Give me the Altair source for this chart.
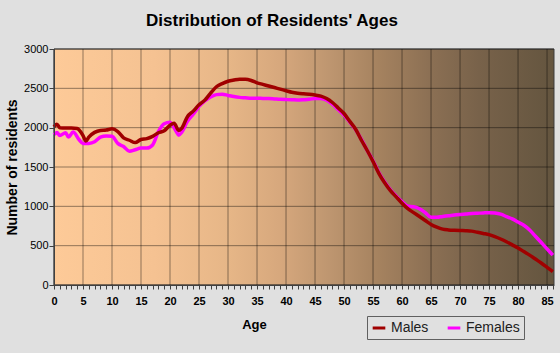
import altair as alt
import pandas as pd

FONT = "Liberation Sans"

# ---- data ----
ages_m = [0, 0.5, 1, 2, 3, 4, 5, 5.5, 6, 7, 8, 9, 10, 11, 12, 13, 14, 15, 16, 17, 18, 19, 20, 20.7, 21.5, 22,
          23, 24, 25, 26, 27, 28, 29, 30, 31, 32, 33, 34, 35, 36, 37, 38, 39, 40, 41, 42, 43, 44, 45,
          46, 47, 48, 49, 50, 51, 52, 53, 54, 55, 56, 57, 58, 59, 60, 61, 62, 63, 64, 65, 66, 67, 68,
          69, 70, 71, 72, 73, 74, 75, 76, 77, 78, 79, 80, 81, 82, 83, 84, 85, 86]
males = [2010, 2045, 2000, 1995, 1995, 1990, 1900, 1830, 1880, 1940, 1965, 1970, 1985, 1950, 1870, 1840, 1810,
         1850, 1860, 1890, 1935, 1960, 2030, 2055, 1965, 1990,
         2140, 2210, 2290, 2350, 2440, 2520, 2560, 2590, 2605, 2615, 2615, 2600, 2570, 2550, 2530, 2510,
         2490, 2470, 2450, 2437, 2430, 2425, 2415,
         2400, 2370, 2320, 2250, 2180, 2080, 1980, 1840, 1710, 1570, 1420, 1300, 1200, 1120, 1040, 970,
         920, 870, 820, 770, 735, 710, 700,
         695, 692, 690, 685, 670, 655, 640, 615, 585, 550, 510, 470, 425, 380, 330, 280, 225, 170]

ages_f = [0, 0.5, 1, 2, 2.5, 3.3, 4.3, 5, 6, 7, 8, 9, 10, 11, 12, 13, 14, 15, 16, 17, 18, 19, 20, 21,
          21.5, 22, 23, 24, 25, 26, 27, 28, 29, 30, 31, 32, 33, 34, 35, 36, 37, 38, 39, 40, 41, 42, 43,
          44, 45, 46, 47, 48, 49, 50, 51, 52, 53, 54, 55, 56, 57, 58, 59, 60, 61, 62, 63, 64, 65, 66,
          67, 68, 69, 70, 71, 72, 73, 74, 75, 76, 77, 78, 79, 80, 81, 82, 83, 84, 85, 86]
females = [1910, 1940, 1900, 1935, 1880, 1945, 1850, 1800, 1800, 1820, 1880, 1895, 1890, 1800, 1760,
           1700, 1720, 1740, 1740, 1780, 1950, 2050, 2070, 1960,
           1905, 1940, 2080, 2170, 2270, 2340, 2390, 2420, 2425, 2410, 2395, 2385, 2380, 2375, 2375,
           2372, 2370, 2365, 2360, 2357, 2355, 2352, 2355,
           2360, 2372, 2370, 2350, 2300, 2230, 2160, 2070, 1975, 1850, 1710, 1580, 1430, 1310, 1210,
           1130, 1060, 1000, 995, 970, 920, 860, 860,
           872, 880, 890, 897, 902, 908, 912, 916, 919, 915, 900, 870, 840, 800, 760, 700, 620, 540,
           460, 380]

series_names = ["Males", "Females"]
series_colors = ["#a00000", "#ff00ff"]

y_ticks = [0, 500, 1000, 1500, 2000, 2500, 3000]
x_ticks = [0, 5, 10, 15, 20, 25, 30, 35, 40, 45, 50, 55, 60, 65, 70, 75, 80, 85]
x_minor_ticks = list(range(0, 87))

df_m = pd.DataFrame({"age": ages_m, "value": males, "sex": "Males"})
df_f = pd.DataFrame({"age": ages_f, "value": females, "sex": "Females"})
df_yg = pd.DataFrame({"value": y_ticks})
df_xg = pd.DataFrame({"age": x_ticks})
one = pd.DataFrame({"k": [0]})

W, H = 500, 236

xscale = alt.Scale(domain=[0, 86.2], nice=False, zero=False)
yscale = alt.Scale(domain=[0, 3000], nice=False)

xaxis = alt.Axis(values=x_minor_ticks,
                 labelExpr="datum.value % 5 === 0 ? datum.label : ''",
                 grid=False, tickSize=4, tickColor="#404040", domainColor="#404040",
                 labelFont=FONT, labelFontSize=11, labelFontWeight="bold", labelColor="black",
                 labelPadding=6, labelOverlap=False, labelFlush=False,
                 title="Age", titleFont=FONT, titleFontSize=13, titleFontWeight="bold",
                 titleColor="black", titleX=200, titleY=39, titleAlign="center",
                 titleBaseline="middle", zindex=1)
yaxis = alt.Axis(values=y_ticks, format="d", grid=False, tickSize=5, tickColor="#404040",
                 domainColor="#404040", labelFont=FONT, labelFontSize=11, labelColor="black",
                 labelPadding=1,
                 title="Number of residents", titleFont=FONT, titleFontSize=14,
                 titleFontWeight="bold", titleColor="black", titleX=-42, titleY=118,
                 titleAngle=270, titleAlign="center", titleBaseline="middle", zindex=1)

X = alt.X("age:Q", scale=xscale, axis=xaxis)
Y = alt.Y("value:Q", scale=yscale, axis=yaxis)

gradient = alt.LinearGradient(
    gradient="linear", x1=0, x2=1, y1=0, y2=0,
    stops=[alt.GradientStop(color="#fdca98", offset=0),
           alt.GradientStop(color="#f5c292", offset=0.2),
           alt.GradientStop(color="#e6b687", offset=0.35),
           alt.GradientStop(color="#d7a87d", offset=0.45),
           alt.GradientStop(color="#be9670", offset=0.55),
           alt.GradientStop(color="#a5825f", offset=0.65),
           alt.GradientStop(color="#8c7054", offset=0.75),
           alt.GradientStop(color="#78624a", offset=0.85),
           alt.GradientStop(color="#64553f", offset=1)])

bg = alt.Chart(one).mark_rect(fill=gradient, stroke="#3c3c3c", strokeWidth=1).encode(
    x=alt.value(0), x2=alt.value(W), y=alt.value(0), y2=alt.value(H))

ygrid = alt.Chart(df_yg).mark_rule(color="black", opacity=0.42, strokeWidth=1).encode(y=Y)
xgrid = alt.Chart(df_xg).mark_rule(color="black", opacity=0.42, strokeWidth=1).encode(x=X)

color = alt.Color("sex:N", scale=alt.Scale(domain=series_names, range=series_colors),
                  legend=alt.Legend(title=None))

line_f = alt.Chart(df_f).mark_line(strokeWidth=3.5, interpolate="monotone").encode(
    x=X, y=Y, color=color)
line_m = alt.Chart(df_m).mark_line(strokeWidth=3.5, interpolate="monotone").encode(
    x=X, y=Y, color=color)

chart = alt.layer(bg, ygrid, xgrid, line_f, line_m).properties(
    width=W, height=H,
    title=alt.TitleParams("Distribution of Residents' Ages", font=FONT, fontSize=17,
                          fontWeight="bold", color="black", anchor="middle", dx=-32, offset=13),
    background="#e0e0e0",
    autosize=alt.AutoSizeParams(type="none"),
    padding={"left": 54, "top": 49, "right": 6, "bottom": 68},
).configure_view(stroke=None).configure_legend(
    orient="none", legendX=313, legendY=267, direction="horizontal",
    strokeColor="#606060", padding=4, symbolType="stroke", symbolStrokeWidth=3,
    symbolSize=160, labelFont=FONT, labelFontSize=14, labelColor="#202020",
    columnPadding=12, labelOffset=4)

chart.save("out.html", embed_options={"renderer": "svg", "actions": False})
